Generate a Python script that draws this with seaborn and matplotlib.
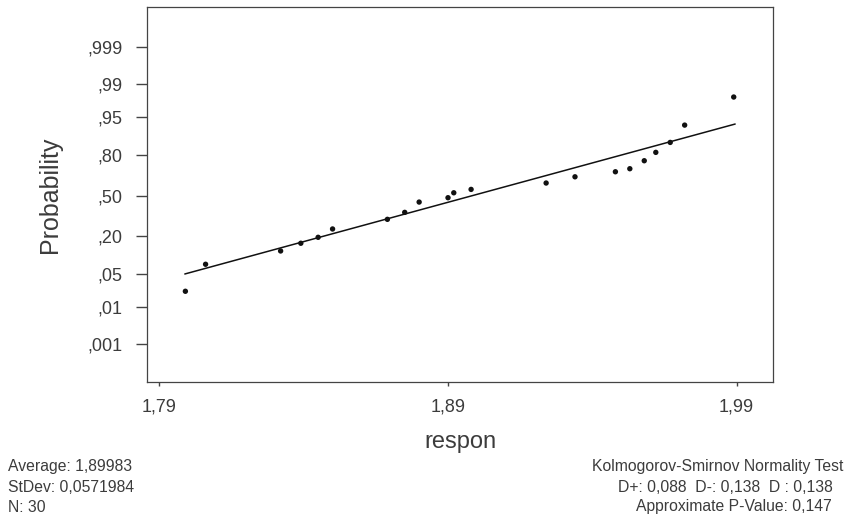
import matplotlib
matplotlib.use("Agg")
import matplotlib.pyplot as plt
import seaborn as sns
import pandas as pd
from statistics import NormalDist

# ---- data ----
respon = [1.799, 1.806, 1.832, 1.839, 1.845, 1.850, 1.869, 1.875, 1.880, 1.890,
          1.892, 1.898, 1.924, 1.934, 1.948, 1.953, 1.958, 1.962, 1.967, 1.972, 1.989]
probability = [0.023, 0.076, 0.124, 0.160, 0.192, 0.243, 0.310, 0.363, 0.446, 0.482,
               0.523, 0.551, 0.603, 0.652, 0.690, 0.712, 0.766, 0.816, 0.866, 0.929, 0.980]
fit_x = [1.7988, 1.9895]
fit_prob = [0.051, 0.932]

prob_ticks = [0.001, 0.01, 0.05, 0.20, 0.50, 0.80, 0.95, 0.99, 0.999]
prob_tick_labels = [",001", ",01", ",05", ",20", ",50", ",80", ",95", ",99", ",999"]
x_ticks = [1.79, 1.89, 1.99]
x_tick_labels = ["1,79", "1,89", "1,99"]

left_stats = ["Average: 1,89983", "StDev: 0,0571984", "N: 30"]
right_stats = ["Kolmogorov-Smirnov Normality Test",
               "D+: 0,088  D-: 0,138  D : 0,138",
               "Approximate P-Value: 0,147"]

nd = NormalDist()
df = pd.DataFrame({"respon": respon, "z": [nd.inv_cdf(p) for p in probability]})
df_fit = pd.DataFrame({"respon": fit_x, "z": [nd.inv_cdf(p) for p in fit_prob]})

sns.set_theme(style="white")
plt.rcParams["font.family"] = ["Liberation Sans", "DejaVu Sans"]

TXT = "#3c3c3c"
fig = plt.figure(figsize=(8.45, 5.2), dpi=100)
fig.patch.set_facecolor("white")
ax = fig.add_axes([0.1743, 0.266, 0.9151 - 0.1743, 0.9865 - 0.266])

sns.lineplot(data=df_fit, x="respon", y="z", ax=ax, color="#111111", lw=1.1)
sns.scatterplot(data=df, x="respon", y="z", ax=ax, color="#111111", s=15,
                edgecolor="none", zorder=3)

ax.set_xlim(1.7858, 2.0027)
ax.set_ylim(-3.88, 3.93)
ax.set_xticks(x_ticks)
ax.set_xticklabels(x_tick_labels)
ax.set_yticks([nd.inv_cdf(p) for p in prob_ticks])
ax.set_yticklabels(prob_tick_labels)

ax.tick_params(axis="y", direction="out", length=8, width=1.0, color="#444444",
               pad=10, labelsize=13, labelcolor=TXT, left=True)
ax.tick_params(axis="x", direction="out", length=3, width=1.0, color="#444444",
               pad=9, labelsize=13, labelcolor=TXT, bottom=True)

for sp in ax.spines.values():
    sp.set_color("#444444")
    sp.set_linewidth(0.9)

ax.set_xlabel("respon", fontsize=17, color=TXT, labelpad=11)
ax.set_ylabel("Probability", fontsize=18, color=TXT, labelpad=18)

ys = [1 - 467 / 520, 1 - 487 / 520, 1 - 507 / 520]
for t, y in zip(left_stats, ys):
    fig.text(8 / 845, y, t, ha="left", va="center", fontsize=11.3, color=TXT)
rx = [843 / 845, 833 / 845, 832 / 845]
for t, x, y in zip(right_stats, rx, ys):
    fig.text(x, y, t, ha="right", va="center", fontsize=11.3, color=TXT)

fig.savefig("out.png", dpi=100, facecolor="white")
